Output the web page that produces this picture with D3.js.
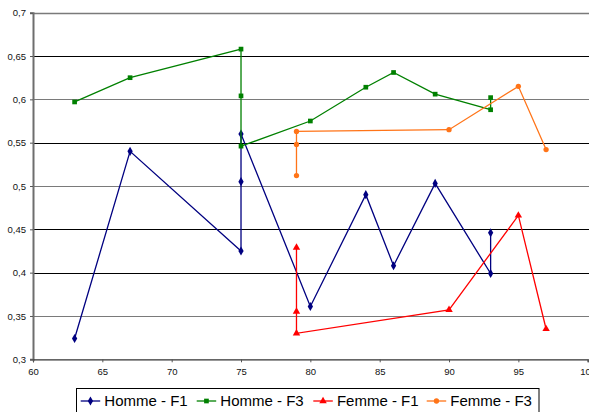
<!DOCTYPE html>
<html>
<head>
<meta charset="utf-8">
<script src="https://cdn.jsdelivr.net/npm/d3@7"></script>
<style>
  body { margin: 0; background: #fff; }
  text { font-family: "Liberation Sans", Arial, sans-serif; }
</style>
</head>
<body>
<div id="chart"></div>
<script>
// data
var seriesNames = ['Homme - F1', 'Homme - F3', 'Femme - F1', 'Femme - F3'];

var hommeF1X = [63, 67, 75, 75, 75, 80, 84, 86, 89, 93, 93];
var hommeF1Y = [0.324, 0.540, 0.425, 0.505, 0.560, 0.361, 0.490, 0.408, 0.503, 0.399, 0.446];

var hommeF3X = [63, 67, 75, 75, 75, 80, 84, 86, 89, 93, 93];
var hommeF3Y = [0.597, 0.625, 0.658, 0.604, 0.546, 0.575, 0.614, 0.631, 0.606, 0.588, 0.602];

var femmeF1X = [79, 79, 79, 90, 95, 97];
var femmeF1Y = [0.429, 0.355, 0.330, 0.357, 0.466, 0.335];

var femmeF3X = [79, 79, 79, 90, 95, 97];
var femmeF3Y = [0.512, 0.548, 0.563, 0.565, 0.615, 0.542];

var xTicks = [60, 65, 70, 75, 80, 85, 90, 95, 100];
var yTicks = [0.3, 0.35, 0.4, 0.45, 0.5, 0.55, 0.6, 0.65, 0.7];

var colors = ['#000080', '#008000', '#ff0000', '#ff7418'];
var shapes = [d3.symbolDiamond, d3.symbolSquare, d3.symbolTriangle, d3.symbolCircle];
var shapeSizes = [24, 22, 24, 22];

var width = 589, height = 412;
var margin = {top: 12.7, right: 1.3, bottom: 52.7, left: 33};

var x = d3.scaleLinear().domain([60, 100]).range([margin.left, width - margin.right]);
var y = d3.scaleLinear().domain([0.3, 0.7]).range([height - margin.bottom, margin.top]);

var svg = d3.select('#chart')
  .append('svg')
  .attr('width', width)
  .attr('height', height);

var fmt = function(v) { return String(+v.toFixed(2)).replace('.', ','); };

// gridlines (some look darker in the original)
var darkGrid = [0.4, 0.45, 0.55, 0.65];
svg.append('g')
  .selectAll('line')
  .data(yTicks.slice(1))
  .enter()
  .append('line')
  .attr('x1', margin.left)
  .attr('x2', width)
  .attr('y1', d => Math.round(y(d)) + 0.5)
  .attr('y2', d => Math.round(y(d)) + 0.5)
  .attr('stroke', d => darkGrid.indexOf(+d.toFixed(2)) >= 0 ? '#000' : '#7a7a7a')
  .attr('stroke-width', d => d === 0.7 ? 1.5 : 1);

// y axis
var yAxis = svg.append('g')
  .attr('transform', 'translate(' + margin.left + ',0)')
  .call(d3.axisLeft(y).tickValues(yTicks).tickFormat(fmt).tickSize(3).tickPadding(4));
yAxis.select('.domain').attr('stroke', '#6e6e6e').attr('stroke-width', 2);
yAxis.selectAll('.tick line').attr('stroke', '#555');
yAxis.selectAll('text').style('font-size', '9.5px').attr('fill', '#111');

// x axis
var xAxis = svg.append('g')
  .attr('transform', 'translate(0,' + (height - margin.bottom) + ')')
  .call(d3.axisBottom(x).tickValues(xTicks).tickFormat(d3.format('d')).tickSize(3).tickPadding(6));
xAxis.select('.domain').attr('stroke', '#333').attr('stroke-width', 1.2);
xAxis.selectAll('.tick line').attr('stroke', '#555');
xAxis.selectAll('text').style('font-size', '9.5px').attr('fill', '#111');

// series
var allX = [hommeF1X, hommeF3X, femmeF1X, femmeF3X];
var allY = [hommeF1Y, hommeF3Y, femmeF1Y, femmeF3Y];
var series = seriesNames.map(function(name, i) {
  return { name: name, color: colors[i], shape: shapes[i], size: shapeSizes[i],
    points: allX[i].map(function(v, j) { return [v, allY[i][j]]; }) };
});

var line = d3.line().x(d => x(d[0])).y(d => y(d[1]));

var groups = svg.selectAll('g.series')
  .data(series)
  .enter()
  .append('g')
  .attr('class', 'series');

groups.append('path')
  .attr('d', d => line(d.points))
  .attr('fill', 'none')
  .attr('stroke', d => d.color)
  .attr('stroke-width', 1.3);

groups.each(function(s) {
  d3.select(this).selectAll('path.pt')
    .data(s.points)
    .enter()
    .append('path')
    .attr('class', 'pt')
    .attr('d', d3.symbol().type(s.shape).size(s.size))
    .attr('transform', d => 'translate(' + x(d[0]) + ',' + y(d[1]) + ')')
    .attr('fill', s.color);
});

// legend
var legend = svg.append('g');
legend.append('rect')
  .attr('x', 76.5)
  .attr('y', 388.5)
  .attr('width', 462.5)
  .attr('height', 30)
  .attr('fill', '#fff')
  .attr('stroke', '#000')
  .attr('stroke-width', 1);

var legendX = [80.7, 196.7, 313.3, 426.7];
var item = legend.selectAll('g.item')
  .data(series)
  .enter()
  .append('g')
  .attr('class', 'item')
  .attr('transform', (d, i) => 'translate(' + legendX[i] + ',401)');

item.append('line')
  .attr('x1', 0).attr('x2', 19.5)
  .attr('y1', 0).attr('y2', 0)
  .attr('stroke', d => d.color)
  .attr('stroke-width', 1.3);

item.append('path')
  .attr('d', d => d3.symbol().type(d.shape).size(d.size)())
  .attr('transform', 'translate(9.75,0)')
  .attr('fill', d => d.color);

item.append('text')
  .attr('x', 23.6)
  .attr('y', 0)
  .attr('dy', '0.36em')
  .style('font-size', '15px')
  .attr('fill', '#000')
  .text(d => d.name);
</script>
</body>
</html>
